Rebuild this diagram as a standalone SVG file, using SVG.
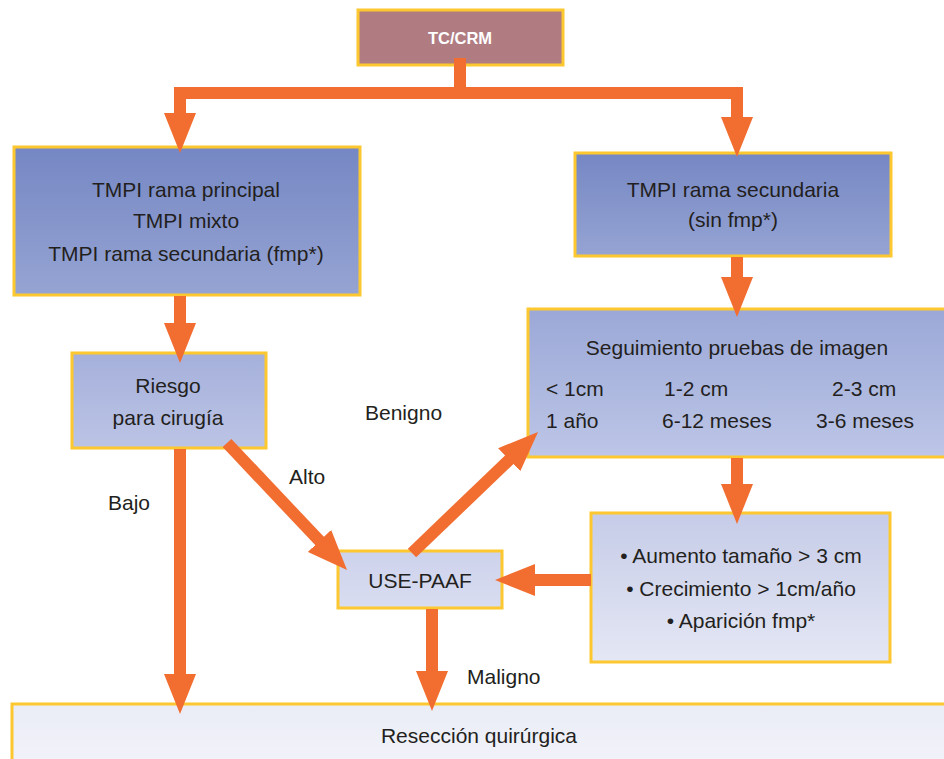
<svg xmlns="http://www.w3.org/2000/svg" width="944" height="759" viewBox="0 0 944 759">
<style>
text{font-family:"Liberation Sans",Arial,sans-serif;font-size:21px;fill:#231f20;}
.c{text-anchor:middle;}
.box{stroke:#fdc82f;stroke-width:3;}
.ln{fill:none;stroke:#f26d30;stroke-width:12;}
.ar{fill:none;stroke:#f26d30;stroke-width:12;marker-end:url(#ah);}
.title{fill:#ffffff;font-weight:bold;font-size:16.5px;}
</style>
<defs>
<marker id="ah" viewBox="0 0 40 32" markerWidth="40" markerHeight="32" markerUnits="userSpaceOnUse" refX="10" refY="16" orient="auto">
<path d="M0,0 L40,16 L0,32 z" fill="#f26d30"/>
</marker>
<linearGradient id="gTop" x1="0" y1="0" x2="0" y2="1"><stop offset="0" stop-color="#7587c4"/><stop offset="1" stop-color="#96a4d3"/></linearGradient>
<linearGradient id="gSeg" x1="0" y1="0" x2="0" y2="1"><stop offset="0" stop-color="#9ba8d7"/><stop offset="1" stop-color="#bdc6e7"/></linearGradient>
<linearGradient id="gRie" x1="0" y1="0" x2="0" y2="1"><stop offset="0" stop-color="#a5b0db"/><stop offset="1" stop-color="#bcc4e5"/></linearGradient>
<linearGradient id="gBul" x1="0" y1="0" x2="0" y2="1"><stop offset="0" stop-color="#c6cce8"/><stop offset="1" stop-color="#e4e7f4"/></linearGradient>
<linearGradient id="gUse" x1="0" y1="0" x2="0" y2="1"><stop offset="0" stop-color="#cdd2ec"/><stop offset="1" stop-color="#d9ddf1"/></linearGradient>
<linearGradient id="gRes" x1="0" y1="0" x2="0" y2="1"><stop offset="0" stop-color="#eaecf6"/><stop offset="1" stop-color="#f3f4fa"/></linearGradient>
</defs>
<rect width="944" height="759" fill="#ffffff"/>

<g id="tccrm">
<rect class="box" x="358" y="10" width="205" height="55" fill="#b07c81"/>
<text class="c title" x="460" y="44">TC/CRM</text>
</g>

<g id="tmpi-principal">
<rect class="box" x="14" y="147" width="346" height="148" fill="url(#gTop)"/>
<text class="c" x="186" y="197">TMPI rama principal</text>
<text class="c" x="186" y="228">TMPI mixto</text>
<text class="c" x="186" y="261">TMPI rama secundaria (fmp*)</text>
</g>

<g id="tmpi-secundaria">
<rect class="box" x="575" y="153" width="316" height="103" fill="url(#gTop)"/>
<text class="c" x="733" y="197">TMPI rama secundaria</text>
<text class="c" x="733" y="227">(sin fmp*)</text>
</g>

<g id="seguimiento">
<rect class="box" x="528" y="309" width="420" height="148" fill="url(#gSeg)"/>
<text class="c" x="737" y="355">Seguimiento pruebas de imagen</text>
<text x="546" y="396">&lt; 1cm</text>
<text x="664" y="396">1-2 cm</text>
<text x="832" y="396">2-3 cm</text>
<text x="546" y="428">1 año</text>
<text x="662" y="428">6-12 meses</text>
<text x="816" y="428">3-6 meses</text>
</g>

<g id="riesgo">
<rect class="box" x="72" y="353" width="194" height="95" fill="url(#gRie)"/>
<text class="c" x="168" y="393">Riesgo</text>
<text class="c" x="168" y="425">para cirugía</text>
</g>

<g id="criterios">
<rect class="box" x="591" y="513" width="299" height="149" fill="url(#gBul)"/>
<text class="c" x="741" y="563">• Aumento tamaño &gt; 3 cm</text>
<text class="c" x="741" y="596">• Crecimiento &gt; 1cm/año</text>
<text class="c" x="741" y="628">• Aparición fmp*</text>
</g>

<g id="use-paaf">
<rect class="box" x="338" y="551" width="164" height="57" fill="url(#gUse)"/>
<text class="c" x="420" y="588">USE-PAAF</text>
</g>

<g id="reseccion">
<rect class="box" x="12" y="704" width="940" height="70" fill="url(#gRes)"/>
<text class="c" x="479" y="743">Resección quirúrgica</text>
</g>

<g id="connectors">
<path class="ln" d="M460,58 V93"/>
<path class="ln" d="M174,93 H743"/>
<path class="ar" d="M180,93 V123"/>
<path class="ar" d="M737,93 V127"/>
<path class="ar" d="M180,296 V333"/>
<path class="ar" d="M737,257 V287"/>
<path class="ar" d="M180,449 V684"/>
<path class="ar" d="M227,443 L326.4,548.2"/>
<path class="ar" d="M412,553 L516.4,452.8"/>
<path class="ar" d="M591,580 H525"/>
<path class="ar" d="M737,458 V494"/>
<path class="ar" d="M432,609 V681"/>
</g>

<g id="labels">
<text x="365" y="420">Benigno</text>
<text x="289" y="484">Alto</text>
<text x="108" y="510">Bajo</text>
<text x="467" y="684">Maligno</text>
</g>
</svg>
